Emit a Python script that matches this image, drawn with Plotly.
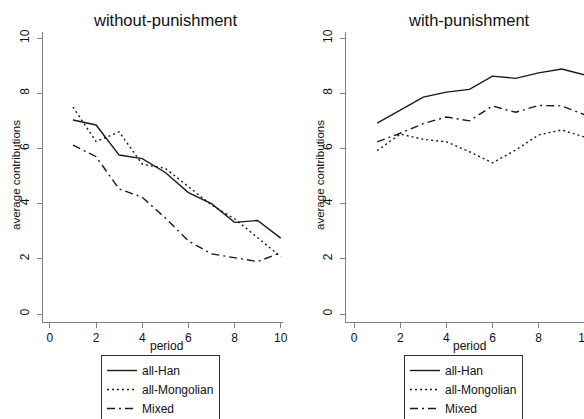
import plotly.graph_objects as go

periods = [1, 2, 3, 4, 5, 6, 7, 8, 9, 10]

# without-punishment
wo_han = [7.03, 6.85, 5.76, 5.63, 5.13, 4.40, 4.00, 3.32, 3.39, 2.75]
wo_mong = [7.50, 6.25, 6.60, 5.43, 5.28, 4.60, 3.95, 3.45, 2.78, 2.08]
wo_mixed = [6.12, 5.70, 4.53, 4.23, 3.48, 2.65, 2.18, 2.03, 1.90, 2.22]

# with-punishment
wp_han = [6.92, 7.39, 7.86, 8.04, 8.14, 8.62, 8.54, 8.74, 8.88, 8.66]
wp_mong = [5.92, 6.52, 6.33, 6.24, 5.88, 5.48, 5.94, 6.49, 6.67, 6.41]
wp_mixed = [6.24, 6.55, 6.90, 7.14, 7.00, 7.54, 7.31, 7.56, 7.54, 7.22]

series_names = ["all-Han", "all-Mongolian", "Mixed"]
panel_titles = ["without-punishment", "with-punishment"]
x_ticks = [0, 2, 4, 6, 8, 10]
y_ticks = [0, 2, 4, 6, 8, 10]

FONT = "Liberation Sans, Arial, Helvetica, sans-serif"
LINE_COLOR = "#1a1a1a"
AXIS_COLOR = "#808080"
dashes = ["solid", "2px,3px", "8px,4px,2px,4px"]

W, H = 600, 419

fig = go.Figure()

panels = [
    (wo_han, wo_mong, wo_mixed),
    (wp_han, wp_mong, wp_mixed),
]
for p, data in enumerate(panels):
    xa = "x" if p == 0 else "x2"
    ya = "y" if p == 0 else "y2"
    lg = "legend" if p == 0 else "legend2"
    for name, vals, dash in zip(series_names, data, dashes):
        fig.add_trace(go.Scatter(
            x=periods, y=vals, name=name, mode="lines",
            line=dict(color=LINE_COLOR, width=1.4, dash=dash),
            xaxis=xa, yaxis=ya, legend=lg, showlegend=True,
        ))

def px_x(v):
    return v / W

def px_y(v):
    return 1 - v / H

ydom = [px_y(322), px_y(32)]
axis_common = dict(
    showline=True, linecolor=AXIS_COLOR, linewidth=1,
    showgrid=False, zeroline=False,
    ticks="outside", ticklen=5, tickcolor=AXIS_COLOR, tickwidth=1,
    tickfont=dict(family=FONT, size=12, color="#111"),
    automargin=False,
)

legend_common = dict(
    xanchor="left", yanchor="top", y=px_y(355),
    bordercolor="#333", borderwidth=1, bgcolor="white",
    font=dict(family=FONT, size=12, color="#111"),
    tracegroupgap=0,
)

fig.update_layout(
    width=W, height=H,
    margin=dict(l=0, r=0, t=0, b=0, autoexpand=False),
    paper_bgcolor="white", plot_bgcolor="white",
    font=dict(family=FONT, color="#111"),
    xaxis=dict(domain=[px_x(43), px_x(283)], range=[-0.3, 10.1],
               tickvals=x_ticks, anchor="y", **axis_common),
    yaxis=dict(domain=ydom, range=[-0.29, 10.22], tickvals=y_ticks,
               tickangle=-90, ticklabelstandoff=3, anchor="x", **axis_common),
    xaxis2=dict(domain=[px_x(346), px_x(586)], range=[-0.35, 10.05],
                tickvals=x_ticks, anchor="y2", **axis_common),
    yaxis2=dict(domain=ydom, range=[-0.29, 10.22], tickvals=y_ticks,
                tickangle=-90, ticklabelstandoff=3, anchor="x2", **axis_common),
    legend=dict(x=px_x(101), **legend_common),
    legend2=dict(x=px_x(404), **legend_common),
    showlegend=True,
)

annots = []
for title, cx, ax_x in [(panel_titles[0], 165, 166), (panel_titles[1], 469, 469)]:
    annots.append(dict(text=title, x=px_x(cx), y=px_y(20), xref="paper", yref="paper",
                       xanchor="center", yanchor="middle", showarrow=False,
                       font=dict(family=FONT, size=16.5, color="#111")))
    annots.append(dict(text="period", x=px_x(ax_x), y=px_y(346), xref="paper", yref="paper",
                       xanchor="center", yanchor="middle", showarrow=False,
                       font=dict(family=FONT, size=12, color="#111")))
for ty_x in [16, 320]:
    annots.append(dict(text="average contributions", x=px_x(ty_x), y=px_y(175),
                       xref="paper", yref="paper", xanchor="center", yanchor="middle",
                       textangle=-90, showarrow=False,
                       font=dict(family=FONT, size=11.5, color="#111")))
fig.update_layout(annotations=annots)

fig.write_html(
    "out.html",
    config={"displayModeBar": False},
    post_script="document.body.style.margin='0';document.body.style.overflow='hidden';"
                "document.documentElement.style.overflow='hidden';",
)
